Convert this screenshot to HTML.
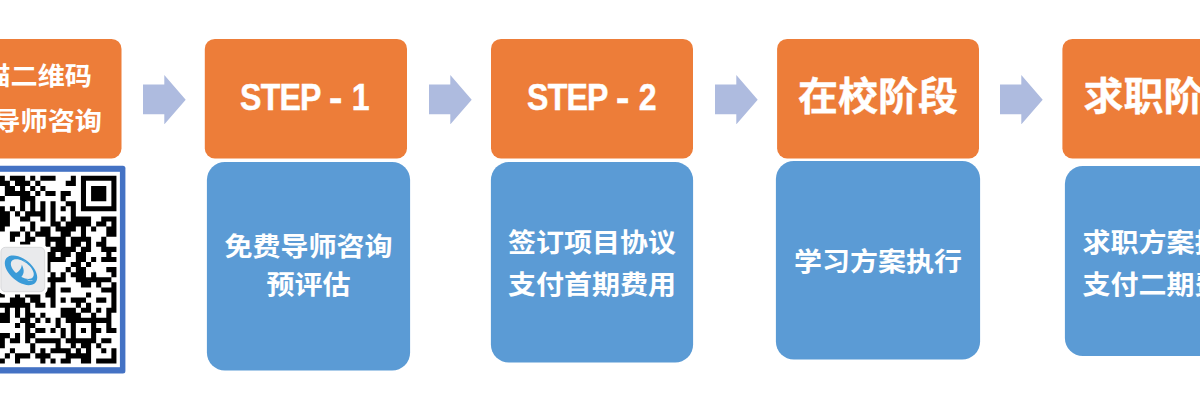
<!DOCTYPE html>
<html lang="zh-CN">
<head>
<meta charset="utf-8">
<title>流程</title>
<style>
html,body{margin:0;padding:0;background:#fff;}
body{width:1200px;height:403px;position:relative;overflow:hidden;font-family:"Liberation Sans","Noto Sans CJK SC",sans-serif;}
.o{position:absolute;top:38.8px;height:119.7px;color:#fff;font-weight:bold;text-align:center;white-space:nowrap;}
.b{position:absolute;color:#fff;font-weight:bold;text-align:center;white-space:nowrap;font-size:28px;}
.t{position:absolute;left:0;right:0;}
.step{font-size:36.6px;line-height:40px;top:39.2px;}
.step>span{display:inline-block;transform:scaleX(0.877);transform-origin:50% 50%;position:relative;left:-0.6px;-webkit-text-stroke:0.45px #fff;}
.step .w{letter-spacing:-0.9px;}
.step .h{display:inline-block;margin:0 12.6px 0 10.6px;transform:scaleX(1.25);}
.cn{font-size:40px;line-height:46px;top:34.5px;-webkit-text-stroke:0.4px #fff;transform:scaleY(0.972);transform-origin:50% 88%;}
.arrow{position:absolute;top:74.5px;width:43px;height:49.4px;}
</style>
</head>
<body>
<svg style="position:absolute;left:0;top:0;" width="1200" height="403" viewBox="0 0 1200 403">
  <g fill="#ED7D39">
    <rect x="-80.5" y="38.9" width="202" height="119.6" rx="10"/>
    <rect x="204.8" y="38.9" width="202.2" height="119.6" rx="10"/>
    <rect x="491" y="38.9" width="202" height="119.6" rx="10"/>
    <rect x="777.1" y="38.9" width="201.9" height="119.6" rx="10"/>
    <rect x="1062.4" y="38.9" width="202" height="119.6" rx="10"/>
  </g>
  <g fill="#5B9BD5">
    <rect x="206.9" y="162" width="203.2" height="208.5" rx="18"/>
    <rect x="490.9" y="162.1" width="202.2" height="200.4" rx="18"/>
    <rect x="775.9" y="160.9" width="204.2" height="198.6" rx="18"/>
    <rect x="1064.9" y="166" width="203" height="190.1" rx="18"/>
  </g>
</svg>

<div class="o" style="left:-80.5px;width:202px;font-size:27.2px;">
  <div class="t" style="top:12.64px;line-height:47.96px;transform:scaleY(0.93);"><span style="position:relative;left:3.6px">扫描二维码</span><br>联系导师咨询</div>
</div>

<svg style="position:absolute;left:0;top:165px;" width="127" height="210" viewBox="0 165 127 210">
  <rect x="-90" y="165.7" width="215.4" height="207.9" rx="2.5" fill="#4472C4"/>
  <rect x="-90" y="171.8" width="209.9" height="195.4" fill="#fff"/>
  <g transform="translate(-0.23 175.8) scale(5.073)"><path fill="#000" d="M-1 0h2v1h-2zM2 0h3v1h-3zM6 0h1v1h-1zM8 0h3v1h-3zM14 0h1v1h-1zM16 0h7v1h-7zM-1 1h3v1h-3zM3 1h3v1h-3zM7 1h1v1h-1zM13 1h2v1h-2zM16 1h1v1h-1zM22 1h1v1h-1zM1 2h2v1h-2zM4 2h1v1h-1zM6 2h1v1h-1zM8 2h1v1h-1zM16 2h1v1h-1zM18 2h3v1h-3zM22 2h1v1h-1zM1 3h5v1h-5zM7 3h1v1h-1zM9 3h2v1h-2zM12 3h2v1h-2zM16 3h1v1h-1zM18 3h3v1h-3zM22 3h1v1h-1zM-1 4h2v1h-2zM4 4h3v1h-3zM12 4h1v1h-1zM16 4h1v1h-1zM18 4h3v1h-3zM22 4h1v1h-1zM4 5h1v1h-1zM6 5h1v1h-1zM8 5h1v1h-1zM10 5h1v1h-1zM13 5h2v1h-2zM16 5h1v1h-1zM22 5h1v1h-1zM-1 6h2v1h-2zM2 6h1v1h-1zM4 6h1v1h-1zM6 6h1v1h-1zM8 6h1v1h-1zM10 6h1v1h-1zM12 6h1v1h-1zM14 6h1v1h-1zM16 6h7v1h-7zM-1 7h3v1h-3zM3 7h1v1h-1zM5 7h4v1h-4zM10 7h1v1h-1zM14 7h1v1h-1zM-1 8h3v1h-3zM4 8h2v1h-2zM8 8h1v1h-1zM10 8h1v1h-1zM12 8h1v1h-1zM14 8h4v1h-4zM20 8h3v1h-3zM-1 9h3v1h-3zM6 9h1v1h-1zM10 9h2v1h-2zM13 9h5v1h-5zM19 9h2v1h-2zM22 9h1v1h-1zM-1 10h2v1h-2zM4 10h1v1h-1zM6 10h1v1h-1zM8 10h2v1h-2zM11 10h4v1h-4zM16 10h1v1h-1zM18 10h1v1h-1zM21 10h2v1h-2zM2 11h2v1h-2zM5 11h1v1h-1zM7 11h3v1h-3zM12 11h2v1h-2zM16 11h1v1h-1zM21 11h2v1h-2zM2 12h1v1h-1zM5 12h2v1h-2zM9 12h4v1h-4zM14 12h4v1h-4zM20 12h1v1h-1zM4 13h2v1h-2zM9 13h1v1h-1zM11 13h2v1h-2zM14 13h2v1h-2zM17 13h1v1h-1zM19 13h2v1h-2zM10 14h5v1h-5zM16 14h2v1h-2zM20 14h3v1h-3zM9 15h2v1h-2zM12 15h2v1h-2zM15 15h2v1h-2zM21 15h1v1h-1zM9 16h4v1h-4zM15 16h2v1h-2zM18 16h1v1h-1zM20 16h3v1h-3zM9 17h1v1h-1zM14 17h2v1h-2zM17 17h1v1h-1zM9 18h1v1h-1zM13 18h1v1h-1zM15 18h2v1h-2zM21 18h2v1h-2zM10 19h1v1h-1zM12 19h1v1h-1zM14 19h3v1h-3zM18 19h1v1h-1zM22 19h1v1h-1zM9 20h4v1h-4zM15 20h7v1h-7zM10 21h1v1h-1zM16 21h2v1h-2zM19 21h1v1h-1zM22 21h1v1h-1zM9 22h2v1h-2zM12 22h2v1h-2zM20 22h3v1h-3zM-1 23h2v1h-2zM3 23h1v1h-1zM5 23h3v1h-3zM9 23h2v1h-2zM17 23h1v1h-1zM22 23h1v1h-1zM2 24h3v1h-3zM6 24h2v1h-2zM10 24h1v1h-1zM12 24h1v1h-1zM14 24h3v1h-3zM19 24h2v1h-2zM22 24h1v1h-1zM-1 25h7v1h-7zM7 25h2v1h-2zM10 25h1v1h-1zM15 25h1v1h-1zM17 25h1v1h-1zM22 25h1v1h-1zM1 26h1v1h-1zM3 26h1v1h-1zM5 26h1v1h-1zM12 26h3v1h-3zM16 26h2v1h-2zM19 26h1v1h-1zM21 26h2v1h-2zM-1 27h3v1h-3zM3 27h1v1h-1zM5 27h2v1h-2zM8 27h1v1h-1zM12 27h4v1h-4zM18 27h1v1h-1zM21 27h1v1h-1zM-1 28h3v1h-3zM4 28h2v1h-2zM7 28h1v1h-1zM9 28h1v1h-1zM11 28h1v1h-1zM13 28h9v1h-9zM3 29h1v1h-1zM5 29h2v1h-2zM11 29h1v1h-1zM14 29h1v1h-1zM18 29h1v1h-1zM21 29h1v1h-1zM5 30h1v1h-1zM7 30h2v1h-2zM10 30h1v1h-1zM12 30h1v1h-1zM14 30h1v1h-1zM16 30h1v1h-1zM18 30h2v1h-2zM21 30h2v1h-2zM-1 31h3v1h-3zM3 31h1v1h-1zM5 31h2v1h-2zM12 31h1v1h-1zM14 31h1v1h-1zM18 31h1v1h-1zM-1 32h2v1h-2zM2 32h2v1h-2zM5 32h1v1h-1zM7 32h5v1h-5zM13 32h6v1h-6zM20 32h2v1h-2zM-1 33h2v1h-2zM6 33h1v1h-1zM11 33h1v1h-1zM14 33h1v1h-1zM16 33h2v1h-2zM19 33h1v1h-1zM2 34h1v1h-1zM6 34h1v1h-1zM8 34h1v1h-1zM10 34h4v1h-4zM15 34h1v1h-1zM17 34h1v1h-1zM20 34h1v1h-1zM22 34h1v1h-1zM1 35h1v1h-1zM3 35h3v1h-3zM7 35h3v1h-3zM13 35h5v1h-5zM22 35h1v1h-1zM-1 36h2v1h-2zM3 36h1v1h-1zM8 36h1v1h-1zM10 36h1v1h-1zM12 36h2v1h-2zM16 36h2v1h-2zM19 36h4v1h-4z"/></g>
  <rect x="-2" y="244.6" width="49.6" height="49.8" rx="6" fill="#fff"/>
  <rect x="0.9" y="247.3" width="43.8" height="44.4" rx="4.5" fill="#E9EAEC" stroke="#CFCFD1" stroke-width="0.7"/>
  <g fill="#3A9BD8">
    <path fill-rule="evenodd" d="M35.55 282.51L34.26 283.69L32.64 284.54L30.73 285.04L28.58 285.18L26.25 284.95L23.78 284.36L21.25 283.42L18.71 282.16L16.23 280.61L13.87 278.80L11.68 276.79L9.72 274.61L8.03 272.33L6.67 270.00L5.66 267.68L5.03 265.42L4.79 263.28L4.95 261.31L5.51 259.57L6.45 258.09L7.74 256.91L9.36 256.06L11.27 255.56L13.42 255.42L15.75 255.65L18.22 256.24L20.75 257.18L23.29 258.44L25.77 259.99L28.13 261.80L30.32 263.81L32.28 265.99L33.97 268.27L35.33 270.60L36.34 272.92L36.97 275.18L37.21 277.32L37.05 279.29L36.49 281.03zM32.92 277.10L32.11 277.91L31.06 278.49L29.80 278.84L28.35 278.96L26.75 278.83L25.04 278.46L23.26 277.86L21.46 277.04L19.68 276.03L17.97 274.85L16.36 273.53L14.90 272.10L13.62 270.59L12.55 269.05L11.73 267.51L11.16 266.00L10.87 264.58L10.86 263.26L11.13 262.09L11.68 261.10L12.49 260.29L13.54 259.71L14.80 259.36L16.25 259.24L17.85 259.37L19.56 259.74L21.34 260.34L23.14 261.16L24.92 262.17L26.63 263.35L28.24 264.67L29.70 266.10L30.98 267.61L32.05 269.15L32.87 270.69L33.44 272.20L33.73 273.62L33.74 274.94L33.47 276.11z"/>
    <path d="M21.9 264.8C22.8 267 24.2 270 23.6 272.5C23 275 21.8 276.5 20 278.5L14 276L14 272.5L16.1 272.9C18.5 272 20.6 269.5 21.2 267.5C21.5 266.5 21.7 265.7 21.9 264.8z"/>
  </g>
  <path fill="#E9EAEC" d="M26.3 279C28.5 280.4 31 280.9 33.4 280.2C31 281.8 28.3 281.2 26.3 279zM22.6 260.2C24.2 260.5 25.6 261.1 26.9 262.1C25.4 261.6 24 261.1 22.6 260.2z"/>
</svg>

<svg class="arrow" style="left:143.1px" viewBox="0 0 43 49.4"><path fill="#AEBBDF" d="M0 9.5H21.3V0L42.7 24.7L21.3 49.4V39.3H0z"/></svg>
<div class="o" style="left:204.8px;width:202.2px;"><div class="t step"><span><span class="w">STEP</span><span class="h">-</span>1</span></div></div>
<div class="b" style="left:207px;top:162px;width:203px;height:208.5px;">
  <div class="t" style="top:64.3px;line-height:40.86px;transform:scaleY(0.93);">免费导师咨询<br>预评估</div>
</div>

<svg class="arrow" style="left:428.9px" viewBox="0 0 43 49.4"><path fill="#AEBBDF" d="M0 9.5H21.3V0L42.7 24.7L21.3 49.4V39.3H0z"/></svg>
<div class="o" style="left:491px;width:202px;"><div class="t step"><span><span class="w">STEP</span><span class="h">-</span>2</span></div></div>
<div class="b" style="left:491px;top:162px;width:202px;height:200.5px;">
  <div class="t" style="top:57.0px;line-height:45.38px;transform:scaleY(0.93);">签订项目协议<br>支付首期费用</div>
</div>

<svg class="arrow" style="left:714.7px" viewBox="0 0 43 49.4"><path fill="#AEBBDF" d="M0 9.5H21.3V0L42.7 24.7L21.3 49.4V39.3H0z"/></svg>
<div class="o" style="left:777.2px;width:201.8px;"><div class="t cn">在校阶段</div></div>
<div class="b" style="left:776px;top:161px;width:204px;height:198.5px;">
  <div class="t" style="top:82.1px;line-height:40px;transform:scaleY(0.93);">学习方案执行</div>
</div>

<svg class="arrow" style="left:1000.1px" viewBox="0 0 43 49.4"><path fill="#AEBBDF" d="M0 9.5H21.3V0L42.7 24.7L21.3 49.4V39.3H0z"/></svg>
<div class="o" style="left:1062.4px;width:202px;"><div class="t cn">求职阶段</div></div>
<div class="b" style="left:1065px;top:166px;width:203px;height:190px;">
  <div class="t" style="top:52.55px;line-height:45.16px;transform:scaleY(0.93);">求职方案执行<br>支付二期费用</div>
</div>

</body>
</html>
